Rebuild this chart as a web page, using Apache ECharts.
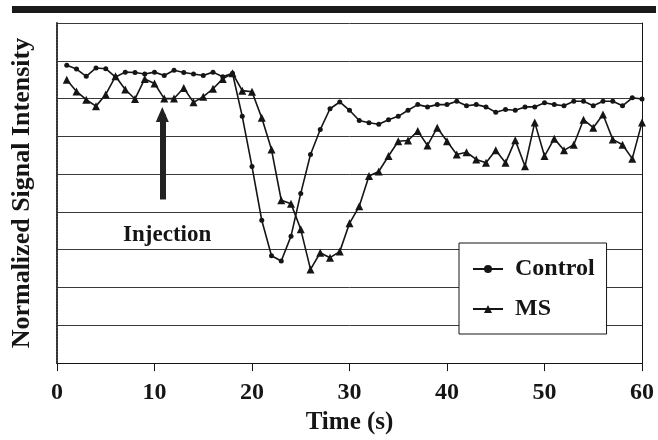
<!DOCTYPE html>
<html>
<head>
<meta charset="utf-8">
<title>Normalized Signal Intensity</title>
<script src="https://cdn.jsdelivr.net/npm/echarts@6/dist/echarts.min.js"></script>
<style>
  html, body { margin: 0; padding: 0; background: #fff; }
  #main { width: 658px; height: 440px; }
</style>
</head>
<body>
<div id="main"></div>
<script>
// time axis, one sample per second
var times = [];
for (var s = 1; s <= 60; s++) times.push(s);

var controlValues = [
  7.88, 7.78, 7.59, 7.81, 7.79, 7.57, 7.70, 7.69, 7.65, 7.70,
  7.61, 7.75, 7.69, 7.65, 7.61, 7.70, 7.58, 7.67, 6.53, 5.20,
  3.78, 2.84, 2.70, 3.36, 4.49, 5.52, 6.18, 6.73, 6.91, 6.69,
  6.42, 6.36, 6.32, 6.44, 6.53, 6.69, 6.84, 6.78, 6.84, 6.84,
  6.93, 6.81, 6.84, 6.78, 6.64, 6.71, 6.69, 6.78, 6.78, 6.89,
  6.84, 6.81, 6.93, 6.93, 6.81, 6.93, 6.93, 6.81, 7.02, 6.99
];
var msValues = [
  7.50, 7.19, 6.97, 6.80, 7.11, 7.59, 7.24, 6.99, 7.52, 7.40,
  7.00, 7.00, 7.28, 6.90, 7.05, 7.26, 7.52, 7.67, 7.21, 7.18,
  6.49, 5.65, 4.31, 4.22, 3.54, 2.48, 2.92, 2.79, 2.95, 3.70,
  4.15, 4.95, 5.07, 5.48, 5.87, 5.89, 6.14, 5.76, 6.23, 5.87,
  5.52, 5.58, 5.39, 5.30, 5.63, 5.30, 5.90, 5.21, 6.37, 5.48,
  5.94, 5.63, 5.78, 6.44, 6.23, 6.58, 5.92, 5.78, 5.41, 6.37
];
var xTicks = [0, 10, 20, 30, 40, 50, 60];

// injection arrow (time, from -> to) and its label position
var injectionTime = 10.8;
var injectionFrom = 4.33;
var injectionTo = 6.58;
var injectionLabel = [11.3, 3.38];

function pairs(vals) {
  return vals.map(function (v, i) { return [times[i], v]; });
}

var FONT = '"Liberation Serif", "Times New Roman", serif';
var INK = '#151515';

var chart = echarts.init(document.getElementById('main'));
var option = {
  animation: false,
  backgroundColor: '#fff',
  grid: { left: 57, right: 16, top: 23, bottom: 76 },
  graphic: [{
    type: 'rect',
    shape: { x: 12, y: 6, width: 644, height: 7 },
    style: { fill: '#1a1a1a' },
    silent: true
  }],
  legend: {
    left: 459,
    top: 243,
    orient: 'vertical',
    itemWidth: 30,
    itemHeight: 10,
    itemGap: 16,
    padding: [14, 12, 13, 13],
    backgroundColor: '#fff',
    borderColor: INK,
    borderWidth: 1,
    textStyle: {
      fontFamily: FONT, fontWeight: 'bold', fontSize: 24, color: INK,
      padding: [0, 0, 0, 7]
    },
    data: ['Control', 'MS']
  },
  xAxis: {
    type: 'value',
    min: 0,
    max: 60,
    interval: 10,
    name: 'Time (s)',
    nameLocation: 'middle',
    nameGap: 41,
    nameTextStyle: { fontFamily: FONT, fontWeight: 'bold', fontSize: 25, color: INK },
    axisLine: { show: true, lineStyle: { color: INK, width: 1 } },
    axisTick: { show: true, inside: false, length: 8, lineStyle: { color: INK } },
    axisLabel: {
      margin: 18,
      fontFamily: FONT, fontWeight: 'bold', fontSize: 24, color: INK,
      formatter: function (v) { return xTicks.indexOf(v) >= 0 ? String(v) : ''; }
    },
    splitLine: { show: false }
  },
  yAxis: [{
    type: 'value',
    min: 0,
    max: 9,
    interval: 1,
    name: 'Normalized Signal Intensity',
    nameLocation: 'middle',
    nameRotate: 90,
    nameGap: 22,
    nameTextStyle: { fontFamily: FONT, fontWeight: 'bold', fontSize: 26, color: INK },
    axisLine: { show: true, onZero: false, lineStyle: { color: '#333', width: 2, type: [2, 1] } },
    axisTick: { show: false },
    axisLabel: { show: false },
    splitLine: { show: true, lineStyle: { color: '#3a3a3a', width: 1 } }
  }, {
    type: 'value',
    min: 0,
    max: 9,
    interval: 1,
    position: 'right',
    axisLine: { show: true, onZero: false, lineStyle: { color: INK, width: 1 } },
    axisTick: { show: false },
    axisLabel: { show: false },
    splitLine: { show: false }
  }],
  series: [{
    name: 'Control',
    type: 'line',
    data: pairs(controlValues),
    symbol: 'circle',
    symbolSize: 5,
    showSymbol: true,
    lineStyle: { color: INK, width: 1.6 },
    itemStyle: { color: INK, borderWidth: 0 },
    markLine: {
      silent: true,
      symbol: ['none', 'triangle'],
      symbolSize: [13, 15],
      label: { show: false },
      lineStyle: { color: '#222', width: 6, type: 'solid' },
      data: [[{ coord: [injectionTime, injectionFrom] }, { coord: [injectionTime, injectionTo] }]]
    },
    z: 3
  }, {
    name: 'MS',
    type: 'line',
    data: pairs(msValues),
    symbol: 'triangle',
    symbolSize: 8,
    showSymbol: true,
    lineStyle: { color: INK, width: 1.6 },
    itemStyle: { color: INK, borderWidth: 0 },
    markPoint: {
      silent: true,
      symbol: 'circle',
      symbolSize: 1,
      itemStyle: { color: 'rgba(0,0,0,0)' },
      label: {
        show: true,
        position: 'inside',
        formatter: 'Injection',
        fontFamily: FONT, fontWeight: 'bold', fontSize: 23, color: INK
      },
      data: [{ coord: injectionLabel }]
    },
    z: 3
  }]
};
chart.setOption(option);
</script>
</body>
</html>
